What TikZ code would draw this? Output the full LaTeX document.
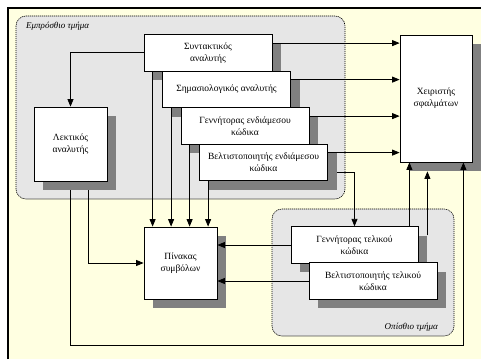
\documentclass[tikz,border=0pt]{standalone}
\usepackage{fontspec}
\setmainfont{Liberation Serif}
\usepackage{tikz}
\usetikzlibrary{arrows.meta,backgrounds,shadows}
\pgfdeclarelayer{wires}
\pgfsetlayers{background,wires,main}
\definecolor{paper}{HTML}{FFFFE1}
\definecolor{panel}{HTML}{E6E6E6}
\definecolor{shadowgray}{HTML}{808080}
\newcommand{\shadowdist}{9pt}
\newcommand{\stagewidth}{128pt}
\newcommand{\stageheight}{36.5pt}
\tikzset{
  unit/.style={draw, fill=white, line width=0.8pt, inner sep=1pt, align=center,
    font=\fontsize{9.5}{12}\selectfont,
    drop shadow={shadow xshift=\shadowdist, shadow yshift=-\shadowdist, fill=shadowgray, opacity=1}},
  stage/.style={unit, minimum width=\stagewidth, minimum height=\stageheight},
  part/.style={draw, fill=panel, rounded corners=10pt, dash pattern=on 1.2pt off 0.8pt, line width=0.6pt},
  partlabel/.style={font=\fontsize{9}{11}\selectfont\itshape, inner sep=0pt},
  arr/.style={-{Triangle[length=7.5pt,width=6pt]}, line width=0.8pt}
}

\begin{document}
\begin{tikzpicture}[x=1pt, y=-1pt]
\useasboundingbox (0,0) rectangle (481,359);
%frame and parts
\begin{scope}[on background layer]
\fill[paper] (8,8) rectangle (481,359);
\draw[line width=1.5pt] (8,359) -- (8,8) -- (481,8);
\draw[part] (16,16) rectangle (345,199);
\draw[part] (272,209) rectangle (454,336);
\end{scope}
\node[partlabel, anchor=west] (frontlabel) at (26,26) {Εμπρόσθιο τμήμα};
\node[partlabel, anchor=east] (backlabel) at (438,327) {Οπίσθιο τμήμα};
%units
\node[stage] (syn) at (208,52.75) {Συντακτικός\\αναλυτής};
\node[stage] (sem) at (226.5,89.25) {Σημασιολογικός αναλυτής};
\node[stage] (gen1) at (245,125.75) {Γεννήτορας ενδιάμεσου\\κώδικα};
\node[stage] (opt1) at (263.5,162.25) {Βελτιστοποιητής ενδιάμεσου\\κώδικα};
\node[unit, minimum width=73pt, minimum height=74pt] (lex) at (70.5,144) {Λεκτικός\\αναλυτής};
\node[unit, minimum width=73pt, minimum height=72pt] (sym) at (180.5,263) {Πίνακας\\συμβόλων};
\node[unit, minimum width=72pt, minimum height=127pt] (err) at (436,98.5) {Χειριστής\\σφαλμάτων};
\node[stage, minimum width=127pt] (gen2) at (354.5,245) {Γεννήτορας τελικού\\κώδικα};
\node[stage] (opt2) at (373,281) {Βελτιστοποιητής τελικού\\κώδικα};
\coordinate (low) at (70.5,345);
%wires under the shadows
\begin{pgfonlayer}{wires}
\draw[arr] ([yshift=-\shadowdist]syn.north east) -- ([yshift=-\shadowdist]syn.north east -| err.west);
\draw[arr] ([yshift=-\shadowdist]sem.north east) -- ([yshift=-\shadowdist]sem.north east -| err.west);
\draw[arr] ([yshift=-\shadowdist]gen1.north east) -- ([yshift=-\shadowdist]gen1.north east -| err.west);
\draw[arr] ([yshift=-\shadowdist]opt1.north east) -- ([yshift=-\shadowdist]opt1.north east -| err.west);
\draw[arr] ([xshift=\shadowdist]syn.south west) -- ([xshift=\shadowdist]syn.south west |- sym.north);
\draw[arr] ([xshift=\shadowdist]sem.south west) -- ([xshift=\shadowdist]sem.south west |- sym.north);
\draw[arr] ([xshift=\shadowdist]gen1.south west) -- ([xshift=\shadowdist]gen1.south west |- sym.north);
\draw[arr] ([xshift=\shadowdist]opt1.south west) -- ([xshift=\shadowdist]opt1.south west |- sym.north);
\draw[arr] (syn.west) -| (lex.north);
\draw[arr] ([xshift=18pt]lex.south) |- (sym.west);
\draw[arr] ([yshift=-10pt]opt1.east) -| (gen2.north);
\end{pgfonlayer}
%wires over the shadows
\draw[arr] (gen2.west) -- (gen2.west -| sym.east);
\draw[arr] (opt2.west) -- (opt2.west -| sym.east);
\draw[arr] ([xshift=-\shadowdist]gen2.north east) -- ([xshift=-\shadowdist]gen2.north east |- err.south);
\draw[arr] ([xshift=\shadowdist, yshift=-\shadowdist]gen2.north east) -- ([xshift=\shadowdist, yshift=-\shadowdist]gen2.north east |- err.south);
\draw[arr] ([yshift=-\shadowdist]lex.south) -- (low) -| ([xshift=-\shadowdist]err.south east);
\end{tikzpicture}
\end{document}
